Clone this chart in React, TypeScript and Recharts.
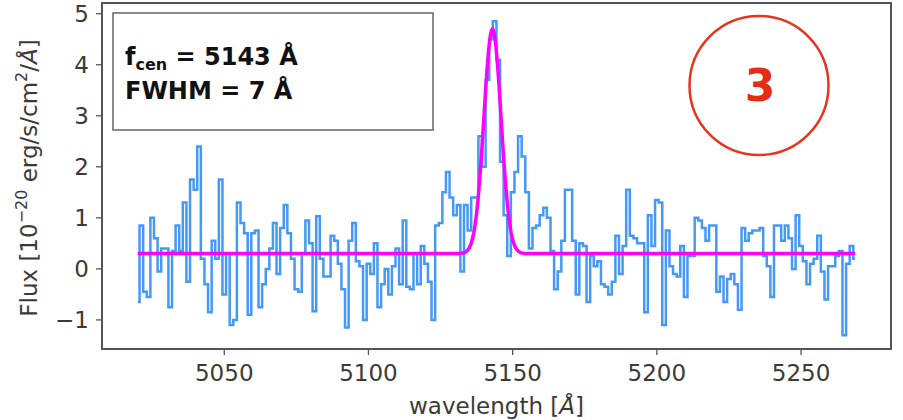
import React from 'react';
import { ComposedChart, Line, XAxis, YAxis, ReferenceArea } from 'recharts';

// Spectrum sampling (Å) and extracted flux per pixel [1e-20 erg/s/cm^2/Å]
const WAVE_START = 5020;
const WAVE_STEP = 1.25;
const FLUX = [
  -0.65, 0.85, -0.45, -0.55, 1.0, 0.6, -0.05, 0.4, 0.4, -0.75,
  0.35, 0.85, 0.35, 1.3, -0.25, 1.75, 1.55, 2.4, 0.2, -0.3,
  -0.85, 0.55, 0.2, 1.75, -0.5, 0.3, -1.1, -1.0, 1.3, 0.9,
  0.7, -0.9, 0.7, 0.75, -0.75, -0.3, 0.0, 0.4, 0.9, -0.1,
  0.8, 1.25, 0.7, 0.2, -0.4, -0.45, 0.3, 0.95, 0.5, -0.83,
  1.03, 0.2, -0.15, -0.15, 0.65, 0.55, 0.1, -0.4, -1.15, 0.55,
  0.9, 0.15, 0.05, -1.0, 0.1, -0.1, 0.5, -0.75, -0.3, 0.0,
  -0.5, 0.05, 0.4, -0.3, 0.95, -0.35, -0.4, 0.3, -0.3, 0.45,
  0.1, -0.25, -1.0, 0.85, 0.9, 1.5, 1.9, 1.4, 1.05, 1.25,
  -0.05, 1.25, 0.75, 1.4, 1.4, 2.6, 2.0, 3.7, 4.5, 4.85,
  4.1, 2.1, 1.05, 0.25, 1.5, 1.9, 2.6, 2.2, 1.5, 0.4,
  0.8, 0.85, 1.05, 1.2, 1.0, 0.35, -0.4, -0.05, 0.55, 1.55,
  1.55, 0.55, -0.5, 0.5, 0.45, -0.65, 0.25, 0.05, 0.15, -0.3,
  -0.35, -0.5, -0.25, 0.65, -0.1, 0.45, 1.55, 0.65, 0.6, 0.5,
  0.5, -0.85, 1.05, 0.45, 1.35, 1.3, -1.1, 0.75, 0.05, -0.1,
  -0.15, 0.45, -0.55, 0.25, 0.25, 1.0, 0.95, 0.8, 0.55, 0.85,
  0.85, -0.45, -0.15, -0.65, -0.2, -0.1, -0.3, -0.8, 0.8, 0.55,
  0.7, 0.75, 0.75, 0.8, 0.25, 0.05, -0.55, 0.85, 0.85, 0.55,
  0.85, 0.6, 0.0, 1.05, 0.45, 0.15, -0.3, 0.1, 0.2, 0.65,
  -0.05, -0.6, 0.05, 0.05, 0.25, 0.35, -1.3, 0.1, 0.45, 0.2,
];

// Gaussian line fit parameters
const FIT_CENTER = 5143;
const FIT_FWHM = 7;
const FIT_AMPLITUDE = 4.4;
const FIT_CONTINUUM = 0.3;

const X_TICKS = [5050, 5100, 5150, 5200, 5250];
const Y_TICKS = [-1, 0, 1, 2, 3, 4, 5];
const X_DOMAIN: [number, number] = [5007.6, 5281.2];
const Y_DOMAIN: [number, number] = [-1.57, 5.21];
const LINE_ID = '3';

const spectrum = FLUX.map((f, i) => ({ wave: WAVE_START + i * WAVE_STEP, flux: f }));

const sigma = FIT_FWHM / (2 * Math.sqrt(2 * Math.LN2));
const waveEnd = WAVE_START + (FLUX.length - 1) * WAVE_STEP;
const model: { wave: number; fit: number }[] = [];
for (let k = 0; WAVE_START + k * 0.25 <= waveEnd + 1e-9; k++) {
  const w = WAVE_START + k * 0.25;
  model.push({
    wave: w,
    fit: FIT_CONTINUUM + FIT_AMPLITUDE * Math.exp(-0.5 * ((w - FIT_CENTER) / sigma) ** 2),
  });
}

const FONT = '"DejaVu Sans", sans-serif';
const AXIS_COLOR = '#3a3a3a';
const fmt = (v: number) => String(v).replace('-', '\u2212');

export default function App() {
  return (
    <div style={{ position: 'absolute', left: 0, top: 0, width: 903, height: 420, background: '#fff' }}>
      <ComposedChart
        width={903}
        height={420}
        margin={{ top: 3, right: 12, bottom: 0, left: 0 }}
      >
        <XAxis
          dataKey="wave"
          type="number"
          domain={X_DOMAIN}
          allowDataOverflow
          ticks={X_TICKS}
          height={71}
          tickSize={6}
          tickMargin={10}
          axisLine={{ stroke: '#555', strokeWidth: 2 }}
          tickLine={{ stroke: '#555', strokeWidth: 1.3 }}
          tick={{ fill: AXIS_COLOR, fontSize: 23, fontFamily: FONT }}
        />
        <YAxis
          type="number"
          domain={Y_DOMAIN}
          allowDataOverflow
          ticks={Y_TICKS}
          width={102}
          tickSize={6}
          tickMargin={7}
          tickFormatter={fmt}
          axisLine={{ stroke: '#555', strokeWidth: 2 }}
          tickLine={{ stroke: '#555', strokeWidth: 1.3 }}
          tick={{ fill: AXIS_COLOR, fontSize: 23, fontFamily: FONT }}
        />
        <ReferenceArea
          x1={X_DOMAIN[0]}
          x2={X_DOMAIN[1]}
          y1={Y_DOMAIN[0]}
          y2={Y_DOMAIN[1]}
          fill="none"
          fillOpacity={0}
          stroke="#555"
          strokeWidth={2}
          ifOverflow="visible"
        />
        <Line
          data={spectrum}
          dataKey="flux"
          type="step"
          stroke="#4499f7"
          strokeWidth={2.5}
          dot={false}
          isAnimationActive={false}
        />
        <Line
          data={model}
          dataKey="fit"
          type="linear"
          stroke="#ff00ff"
          strokeWidth={3.5}
          dot={false}
          isAnimationActive={false}
        />
      </ComposedChart>
      <svg
        width={903}
        height={420}
        style={{ position: 'absolute', left: 0, top: 0, pointerEvents: 'none' }}
      >
        {/* fit summary box */}
        <rect x={113} y={13} width={320} height={117} fill="#fff" stroke="#666" strokeWidth={1.5} />
        <text x={125} y={65} fontFamily={FONT} fontWeight="bold" fontSize={24} fill="#111">
          <tspan>f</tspan>
          <tspan fontSize={16} dy={5}>cen</tspan>
          <tspan dy={-5}>{` = ${FIT_CENTER} Å`}</tspan>
        </text>
        <text x={125} y={99} fontFamily={FONT} fontWeight="bold" fontSize={24} fill="#111">
          {`FWHM = ${FIT_FWHM} Å`}
        </text>
        {/* source identifier */}
        <circle cx={759} cy={85.5} r={69.5} fill="none" stroke="#e8341c" strokeWidth={2.5} />
        <text x={760} y={101} textAnchor="middle" fontFamily={FONT} fontWeight="bold" fontSize={44} fill="#e42d12">
          {LINE_ID}
        </text>
        {/* axis titles */}
        <text x={496.5} y={414} textAnchor="middle" fontFamily={FONT} fontSize={23} fill={AXIS_COLOR}>
          wavelength [<tspan fontStyle="italic">Å</tspan>]
        </text>
        <text
          transform="translate(37,178) rotate(-90)"
          textAnchor="middle"
          fontFamily={FONT}
          fontSize={23}
          fill={AXIS_COLOR}
        >
          Flux [10
          <tspan fontSize={16} dy={-10}>{'\u221220'}</tspan>
          <tspan dy={10}> erg/s/cm</tspan>
          <tspan fontSize={16} dy={-10}>2</tspan>
          <tspan dy={10}>/</tspan>
          <tspan fontStyle="italic">Å</tspan>]
        </text>
      </svg>
    </div>
  );
}
